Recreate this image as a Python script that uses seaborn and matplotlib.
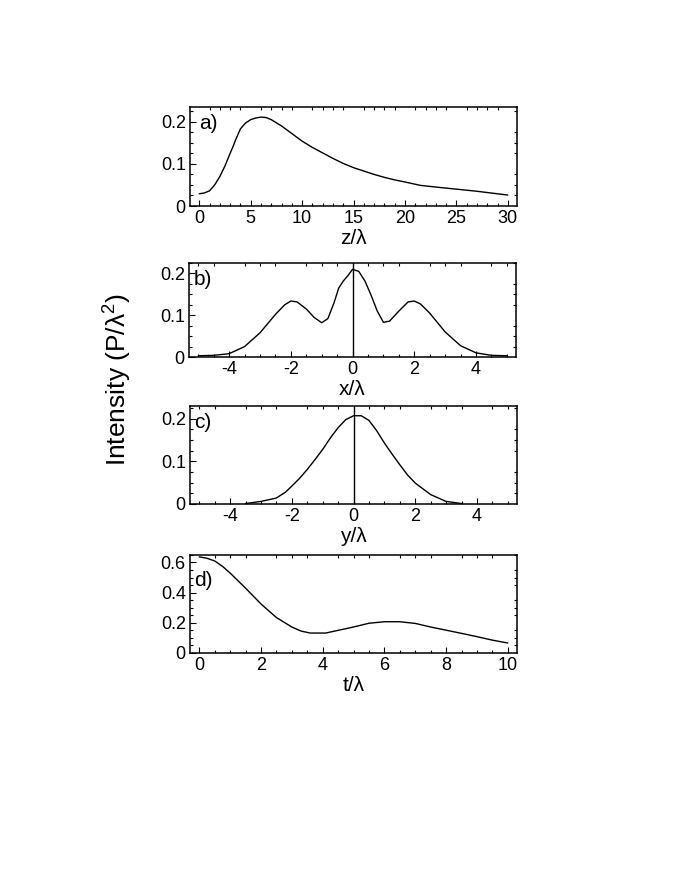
import numpy as np
import pandas as pd
import matplotlib
matplotlib.use("Agg")
import matplotlib.pyplot as plt
from matplotlib.ticker import MultipleLocator
import seaborn as sns

# =========================
# Data
# =========================
z_a = [0, 0.5, 1, 1.5, 2, 2.5, 3, 3.3, 3.5, 4, 4.5, 5, 5.5, 6, 6.5, 7, 8, 9,
       10, 11, 12, 13, 14, 15, 16, 17, 18, 19, 20, 21.5, 23, 25, 27, 29, 30]
I_a = [0.029, 0.031, 0.036, 0.05, 0.07, 0.095, 0.125, 0.142, 0.155, 0.183,
       0.197, 0.205, 0.209, 0.211, 0.21, 0.205, 0.19, 0.172, 0.154, 0.139,
       0.126, 0.113, 0.101, 0.091, 0.083, 0.075, 0.068, 0.062, 0.057, 0.049,
       0.045, 0.04, 0.035, 0.029, 0.026]

x_b = [-5, -4.5, -4, -3.5, -3, -2.5, -2.2, -2, -1.8, -1.5, -1.25, -1.0, -0.8,
       -0.6, -0.45, -0.3, -0.15, 0, 0.2, 0.4, 0.6, 0.8, 1.0, 1.2, 1.5, 1.8,
       2.0, 2.2, 2.5, 3.0, 3.5, 4.0, 4.5, 5]
I_b = [0.003, 0.004, 0.008, 0.025, 0.058, 0.102, 0.125, 0.134, 0.132, 0.115,
       0.095, 0.082, 0.092, 0.13, 0.165, 0.182, 0.195, 0.21, 0.205, 0.182,
       0.148, 0.11, 0.083, 0.086, 0.11, 0.132, 0.134, 0.127, 0.105, 0.06,
       0.027, 0.01, 0.004, 0.003]

y_c = [-3.5, -3, -2.5, -2.2, -2, -1.75, -1.5, -1.25, -1, -0.75, -0.5, -0.25,
       0, 0.25, 0.5, 0.75, 1, 1.25, 1.5, 1.75, 2, 2.5, 3, 3.5]
I_c = [0.001, 0.006, 0.014, 0.028, 0.042, 0.06, 0.081, 0.104, 0.128, 0.155,
       0.179, 0.198, 0.207, 0.207, 0.196, 0.172, 0.143, 0.117, 0.092, 0.068,
       0.049, 0.022, 0.006, 0.001]

t_d = [0, 0.25, 0.5, 0.75, 1, 1.5, 2, 2.5, 3, 3.3, 3.6, 4.1, 4.5, 5, 5.5, 6,
       6.5, 7, 7.5, 8, 8.5, 9, 9.5, 10]
I_d = [0.637, 0.628, 0.61, 0.575, 0.53, 0.43, 0.325, 0.235, 0.172, 0.145,
       0.132, 0.132, 0.15, 0.172, 0.197, 0.207, 0.207, 0.196, 0.172, 0.151,
       0.13, 0.108, 0.085, 0.066]

panels = [
    ("a)", z_a, I_a, "z/\u03bb", (-0.9, 30.9), (0, 0.235),
     [0, 5, 10, 15, 20, 25, 30], 1, [0, 0.1, 0.2], 0.025, False),
    ("b)", x_b, I_b, "x/\u03bb", (-5.3, 5.3), (0, 0.225),
     [-4, -2, 0, 2, 4], 0.5, [0, 0.1, 0.2], 0.025, True),
    ("c)", y_c, I_c, "y/\u03bb", (-5.3, 5.3), (0, 0.23),
     [-4, -2, 0, 2, 4], 0.5, [0, 0.1, 0.2], 0.025, True),
    ("d)", t_d, I_d, "t/\u03bb", (-0.3, 10.3), (0, 0.65),
     [0, 2, 4, 6, 8, 10], 0.5, [0, 0.2, 0.4, 0.6], 0.05, False),
]

# =========================
# Style
# =========================
sns.set_style("ticks")
plt.rcParams["font.family"] = ["Liberation Sans", "DejaVu Sans"]
plt.rcParams["mathtext.default"] = "regular"
plt.rcParams["axes.unicode_minus"] = False
plt.rcParams["text.color"] = "black"
plt.rcParams["axes.labelcolor"] = "black"
plt.rcParams["xtick.color"] = "black"
plt.rcParams["ytick.color"] = "black"

fig = plt.figure(figsize=(6.8, 8.8), dpi=100)

# axes boxes in figure fractions: left, bottom, width, height
boxes = [
    [0.2794, 0.7659, 0.481, 0.1125],
    [0.2780, 0.5943, 0.481, 0.1068],
    [0.2794, 0.4273, 0.481, 0.1114],
    [0.2794, 0.2580, 0.481, 0.1114],
]

# panel tag positions (axes fraction)
tag_pos = [(0.028, 0.93), (0.015, 0.93), (0.012, 0.93), (0.012, 0.84)]

for box, tp, (tag, xs, ys, xlab, xlim, ylim, xt, xminor, yt, yminor, vline) in zip(boxes, tag_pos, panels):
    ax = fig.add_axes(box)
    df = pd.DataFrame({"x": xs, "y": ys})
    sns.lineplot(data=df, x="x", y="y", color="black", linewidth=1.0,
                 estimator=None, sort=False, ax=ax)

    if vline:
        ax.axvline(0, color="black", linewidth=1.0)

    ax.set_xlim(*xlim)
    ax.set_ylim(*ylim)
    ax.set_xticks(xt)
    ax.set_yticks(yt)
    ax.set_yticklabels([f"{v:g}" for v in yt])
    ax.xaxis.set_minor_locator(MultipleLocator(xminor))
    ax.yaxis.set_minor_locator(MultipleLocator(yminor))

    ax.tick_params(which="both", direction="in", top=True, right=True,
                   width=0.8, labelsize=13, pad=3)
    ax.tick_params(which="major", length=4)
    ax.tick_params(which="minor", length=2)
    ax.tick_params(which="major", top=False, right=False)

    for s in ax.spines.values():
        s.set_linewidth(1.1)
        s.set_color("black")

    ax.set_xlabel(xlab, fontsize=15, labelpad=1)
    ax.set_ylabel("")

    ax.text(tp[0], tp[1], tag, transform=ax.transAxes, fontsize=15,
            ha="left", va="top")

fig.text(0.1735, 0.569, "Intensity (P/\u03bb$^2$)", rotation=90,
         fontsize=19, ha="center", va="center")

plt.savefig("out.png", dpi=100)
